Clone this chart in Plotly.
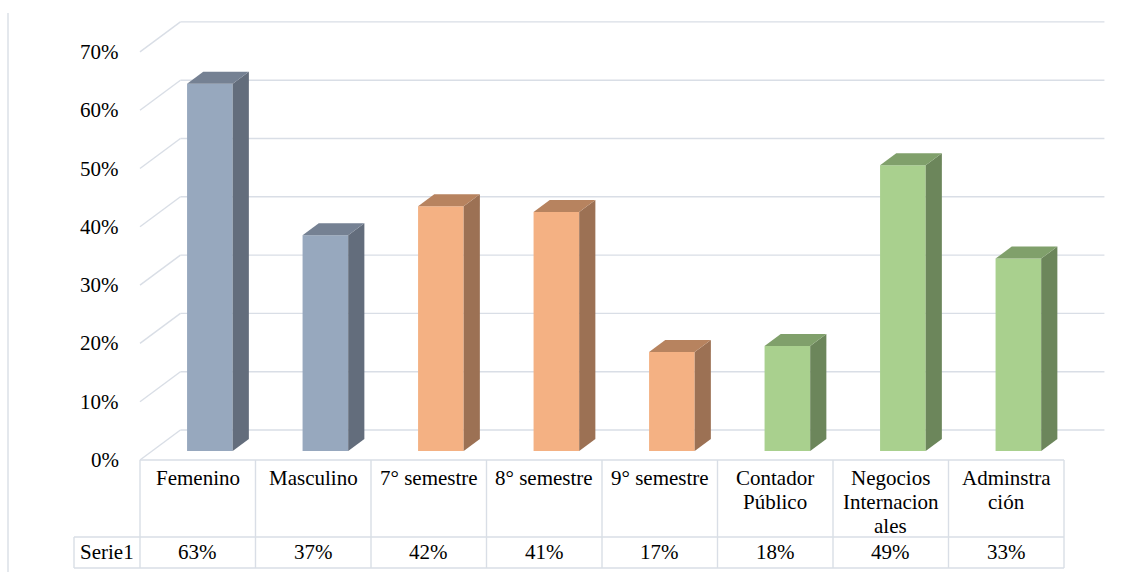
import plotly.graph_objects as go

# ---- data ----
categories = ["Femenino", "Masculino", "7° semestre", "8° semestre", "9° semestre",
              "Contador Público", "Negocios Internacionales", "Adminstración"]
category_lines = [["Femenino"], ["Masculino"], ["7° semestre"], ["8° semestre"],
                  ["9° semestre"], ["Contador", "Público"],
                  ["Negocios", "Internacion", "ales"], ["Adminstra", "ción"]]
series_name = "Serie1"
values = [0.63, 0.37, 0.42, 0.41, 0.17, 0.18, 0.49, 0.33]
y_ticks = [0, 0.1, 0.2, 0.3, 0.4, 0.5, 0.6, 0.7]
y_tick_labels = ["0%", "10%", "20%", "30%", "40%", "50%", "60%", "70%"]

# colour groups: front, top, side
palette = {
    "blue": ("#97A8BE", "#758193", "#636D7C"),
    "orange": ("#F4B183", "#B7835F", "#9C7154"),
    "green": ("#A9D08E", "#80A06B", "#6C865B"),
}
groups = ["blue", "blue", "orange", "orange", "orange", "green", "green", "green"]

# ---- geometry of the oblique 3D projection ----
W, H = 1144, 579
COL_W = 115.5            # pixels per category column
X0_PX = 140.0            # left edge of first column
FLOOR_PX = 460.0         # front floor line (0%)
PX_PER_UNIT = 583.0      # pixels per 100%

def X(px):
    return (px - X0_PX) / COL_W - 0.5

def Y(px):
    return (FLOOR_PX - px) / PX_PER_UNIT

DX = 0.35                 # depth offset in category units
DY = 30.0 / PX_PER_UNIT   # depth offset in value units
T0, TD = 0.30, 0.40       # bar start depth and bar depth (fractions)
BAR_W = 0.395
GRID = "#D9DEE6"
FONT = "Liberation Serif"
FS = 21

fig = go.Figure()

# front faces of the columns
for i, v in enumerate(values):
    front, top, side = palette[groups[i]]
    xc = i + T0 * DX
    base = T0 * DY
    fig.add_trace(go.Bar(x=[xc], y=[v], base=[base], width=[BAR_W],
                         marker=dict(color=front, line=dict(width=0)),
                         hoverinfo="skip", showlegend=False))
    xl, xr = xc - BAR_W / 2, xc + BAR_W / 2
    tp = base + v
    ddx, ddy = TD * DX, TD * DY
    # side face
    fig.add_trace(go.Scatter(
        x=[xr, xr + ddx, xr + ddx, xr, xr],
        y=[base, base + ddy, tp + ddy, tp, base],
        fill="toself", fillcolor=side, mode="lines", line=dict(width=0),
        hoverinfo="skip", showlegend=False))
    # top face
    fig.add_trace(go.Scatter(
        x=[xl, xr, xr + ddx, xl + ddx, xl],
        y=[tp, tp, tp + ddy, tp + ddy, tp],
        fill="toself", fillcolor=top, mode="lines", line=dict(width=0),
        hoverinfo="skip", showlegend=False))

shapes = []
n = len(categories)
left, right = -0.5, n - 0.5

# back wall gridlines and left-wall diagonals
for t in y_ticks:
    shapes.append(dict(type="line", xref="x", yref="y", layer="below",
                       x0=left + DX, x1=right + DX, y0=t + DY, y1=t + DY,
                       line=dict(color=GRID, width=1.4)))
    shapes.append(dict(type="line", xref="x", yref="y", layer="below",
                       x0=left, x1=left + DX, y0=t, y1=t + DY,
                       line=dict(color=GRID, width=1.4)))

# data table grid
row1 = Y(537)
row2 = Y(568)
tbl_left = X(74)
shapes.append(dict(type="line", xref="x", yref="y", x0=left, x1=right, y0=0, y1=0,
                   line=dict(color=GRID, width=1.4)))
shapes.append(dict(type="line", xref="x", yref="y", x0=tbl_left, x1=right, y0=row1, y1=row1,
                   line=dict(color=GRID, width=1.4)))
shapes.append(dict(type="line", xref="x", yref="y", x0=tbl_left, x1=right, y0=row2, y1=row2,
                   line=dict(color=GRID, width=1.4)))
for k in range(n + 1):
    shapes.append(dict(type="line", xref="x", yref="y", x0=left + k, x1=left + k, y0=0, y1=row2,
                       line=dict(color=GRID, width=1.4)))
shapes.append(dict(type="line", xref="x", yref="y", x0=tbl_left, x1=tbl_left, y0=row1, y1=row2,
                   line=dict(color=GRID, width=1.4)))

# chart area border on the left
shapes.append(dict(type="line", xref="paper", yref="paper", x0=8 / W, x1=8 / W,
                   y0=1 - 13 / H, y1=1 - 572 / H, line=dict(color=GRID, width=1.4)))

annotations = []
txt = dict(family=FONT, size=FS, color="#000000")

# value axis labels
for t, lab in zip(y_ticks, y_tick_labels):
    annotations.append(dict(x=X(121), y=t, xref="x", yref="y", text=lab, showarrow=False,
                            xanchor="right", yanchor="middle", font=txt))

# category row
for i, lines in enumerate(category_lines):
    for k, line in enumerate(lines):
        annotations.append(dict(x=i, y=Y(478 + 24 * k), xref="x", yref="y", text=line,
                                showarrow=False, xanchor="center", yanchor="middle", font=txt))

# values row
annotations.append(dict(x=(tbl_left + left) / 2, y=Y(552), xref="x", yref="y", text=series_name,
                        showarrow=False, xanchor="center", yanchor="middle", font=txt))
for i, v in enumerate(values):
    annotations.append(dict(x=i, y=Y(552), xref="x", yref="y", text=f"{round(v * 100)}%",
                            showarrow=False, xanchor="center", yanchor="middle", font=txt))

fig.update_layout(
    width=W, height=H,
    margin=dict(l=0, r=0, t=0, b=0),
    paper_bgcolor="white", plot_bgcolor="white",
    xaxis=dict(range=[X(0), X(W)], visible=False, fixedrange=True),
    yaxis=dict(range=[Y(H), Y(0)], visible=False, fixedrange=True),
    barmode="overlay",
    shapes=shapes, annotations=annotations,
    showlegend=False,
)

fig.write_html("out.html", config={"displayModeBar": False})
